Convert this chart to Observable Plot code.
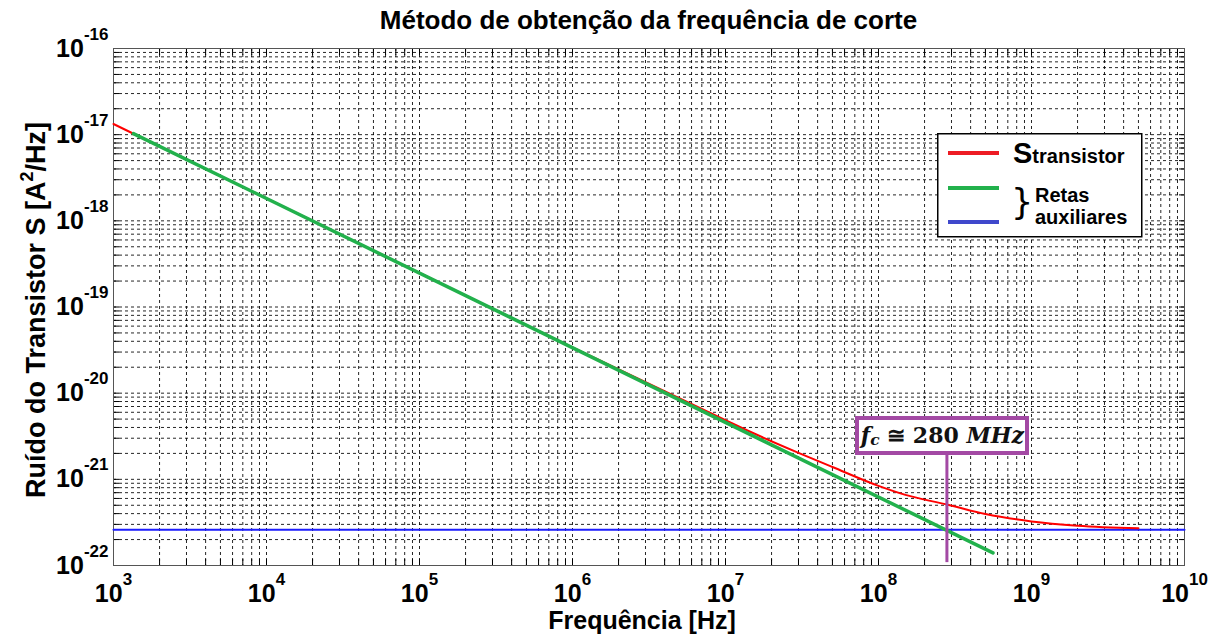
<!DOCTYPE html>
<html>
<head>
<meta charset="utf-8">
<script src="https://cdn.jsdelivr.net/npm/d3@7"></script>
<script src="https://cdn.jsdelivr.net/npm/@observablehq/plot@0.6"></script>
<style>
  body { margin: 0; background: #fff; font-family: "Liberation Sans", Arial, sans-serif; }
  #wrap { position: relative; width: 1219px; height: 637px; overflow: hidden; }
  #title { position: relative; height: 40px; }
  #title span { position: absolute; left: 113px; width: 1071px; top: 7px; text-align: center;
    font-size: 26px; line-height: 26px; font-weight: bold; color: #000; }
  #chart svg { display: block; overflow: visible; }
  #legend { position: absolute; left: 937px; top: 133px; }
  #fcBox { position: absolute; box-sizing: border-box; width: 174px; height: 39px;
    border: 4px solid #a349a4; background: #fff; display: flex; align-items: center; justify-content: center;
    font-family: "DejaVu Serif", serif; font-weight: bold; font-size: 22px; color: #111; white-space: nowrap; }
  #fcBox .sub { font-size: 0.7em; position: relative; top: 0.3em; font-style: italic; }
</style>
</head>
<body>
<div id="wrap">
  <div id="title"><span>Método de obtenção da frequência de corte</span></div>
  <div id="chart"></div>
  <svg id="legend" width="207" height="106">
    <rect x="0.75" y="0.75" width="204" height="103" fill="#fff" stroke="#000" stroke-width="1.5"></rect>
    <line x1="11" x2="62" y1="20" y2="20" stroke="#ed1c24" stroke-width="4"></line>
    <line x1="11" x2="62" y1="55" y2="55" stroke="#22b14c" stroke-width="4"></line>
    <line x1="11" x2="62" y1="89" y2="89" stroke="#3f48cc" stroke-width="4"></line>
    <text x="76" y="30" font-weight="bold" font-size="29">S<tspan font-size="20">transistor</tspan></text>
    <text x="74" y="81" font-size="35" font-family="DejaVu Sans, sans-serif">}</text>
    <text x="98" y="69" font-weight="bold" font-size="20">Retas</text>
    <text x="98" y="91" font-weight="bold" font-size="20">auxiliares</text>
  </svg>
  <div id="fcBox"><i>f</i><span class="sub">c</span>&nbsp;≅&nbsp;280&nbsp;<i>MHz</i></div>
</div>
<script>
// Axis domains and decade tick labels
const xDomain = [1e3, 1e10];
const yDomain = [1e-22, 1e-16];
const xDecades = [1e3, 1e4, 1e5, 1e6, 1e7, 1e8, 1e9, 1e10];
const yDecades = [1e-22, 1e-21, 1e-20, 1e-19, 1e-18, 1e-17, 1e-16];

// Transistor noise spectrum S (A²/Hz) versus frequency (Hz)
const noiseFreq = [1e3, 1e4, 1e5, 1e6, 1e7, 1.5e7, 3e7, 5e7, 1e8, 1.5e8, 2.8e8, 5e8, 1e9, 2e9, 5e9];
const noiseValue = [1.33e-17, 1.82e-18, 2.48e-19, 3.39e-20, 4.85e-21, 3.47e-21, 2.03e-21, 1.39e-21,
                    8.4e-22, 6.6e-22, 5.1e-22, 3.95e-22, 3.25e-22, 2.9e-22, 2.7e-22];

// Auxiliary lines: 1/f asymptote and white-noise floor
const slopeFreq = [1.35e3, 5.6e8];
const slopeValue = [1.03e-17, 1.40e-22];
const floorFreq = [1e3, 1e10];
const floorValue = [2.6e-22, 2.6e-22];

// Cut-off frequency marker
const cutoffFreq = 2.8e8;
const cutoffSpan = [1.08e-22, 1.9e-21];

const toRows = (xs, ys) => xs.map((x, i) => ({x, y: ys[i]}));
const noise = toRows(noiseFreq, noiseValue);
const slope = toRows(slopeFreq, slopeValue);
const floor = toRows(floorFreq, floorValue);

const xTicks = d3.scaleLog().domain(xDomain).ticks();
const yTicks = d3.scaleLog().domain(yDomain).ticks();
const expo = d => String(Math.round(Math.log10(d)));

const grid = {stroke: "#000", strokeOpacity: 0.85, strokeWidth: 1, strokeDasharray: "3,3"};
const tickLabel = {tickSize: 0, tickFormat: expo, fontSize: 25, fontWeight: "bold", label: null, fill: "#000"};
const inner = {tickSize: -6, fill: "none", label: null, stroke: "#000"};

const plot = Plot.plot({
  width: 1219,
  height: 597,
  marginTop: 8,
  marginBottom: 72,
  marginLeft: 113,
  marginRight: 35,
  style: {fontFamily: '"Liberation Sans", Arial, sans-serif', background: "#fff", color: "#000"},
  x: {type: "log", domain: xDomain},
  y: {type: "log", domain: yDomain},
  marks: [
    Plot.gridX(xTicks, grid),
    Plot.gridY(yTicks, grid),
    Plot.axisX(xTicks, {anchor: "bottom", ...inner}),
    Plot.axisX(xTicks, {anchor: "top", ...inner}),
    Plot.axisY(yTicks, {anchor: "left", ...inner}),
    Plot.axisY(yTicks, {anchor: "right", ...inner}),
    Plot.axisX(xDecades, {anchor: "bottom", tickPadding: 19, ...tickLabel}),
    Plot.axisY(yDecades, {anchor: "left", tickPadding: 5, ...tickLabel}),
    Plot.frame({stroke: "#555"}),
    Plot.line(floor, {x: "x", y: "y", stroke: "#1c1cff", strokeWidth: 2}),
    Plot.line(noise, {x: "x", y: "y", stroke: "#ff0000", strokeWidth: 2, curve: "monotone-x"}),
    Plot.line(slope, {x: "x", y: "y", stroke: "#22b14c", strokeWidth: 3.5}),
    Plot.ruleX([cutoffFreq], {y1: cutoffSpan[0], y2: cutoffSpan[1], stroke: "#a349a4", strokeWidth: 3})
  ]
});
document.getElementById("chart").append(plot);

// Decade labels as 10 with a raised exponent
const svg = d3.select(plot);
svg.selectAll('g[aria-label="x-axis tick label"] text, g[aria-label="y-axis tick label"] text').each(function () {
  const e = this.textContent;
  this.textContent = "10";
  d3.select(this).attr("font-size", 25);
  d3.select(this).append("tspan").attr("dy", -17).attr("font-size", 17).text(e);
});

// Axis titles
svg.append("text")
  .attr("x", 642).attr("y", 589)
  .attr("text-anchor", "middle").attr("font-size", 25).attr("font-weight", "bold").attr("fill", "#000")
  .text("Frequência [Hz]");
const yl = svg.append("text")
  .attr("transform", "translate(45,270) rotate(-90)")
  .attr("text-anchor", "middle").attr("font-size", 27).attr("font-weight", "bold").attr("fill", "#000");
yl.append("tspan").text("Ruído do Transistor S [A");
yl.append("tspan").attr("font-size", 18).attr("dy", -12).text("2");
yl.append("tspan").attr("dy", 12).text("/Hz]");

// Cut-off label box placed on top of the marker line
const sx = plot.scale("x"), sy = plot.scale("y");
const top0 = document.getElementById("chart").offsetTop;
const box = document.getElementById("fcBox");
box.style.left = (sx.apply(cutoffFreq) - 91) + "px";
box.style.top = (top0 + sy.apply(cutoffSpan[1]) - 39) + "px";
</script>
</body>
</html>
